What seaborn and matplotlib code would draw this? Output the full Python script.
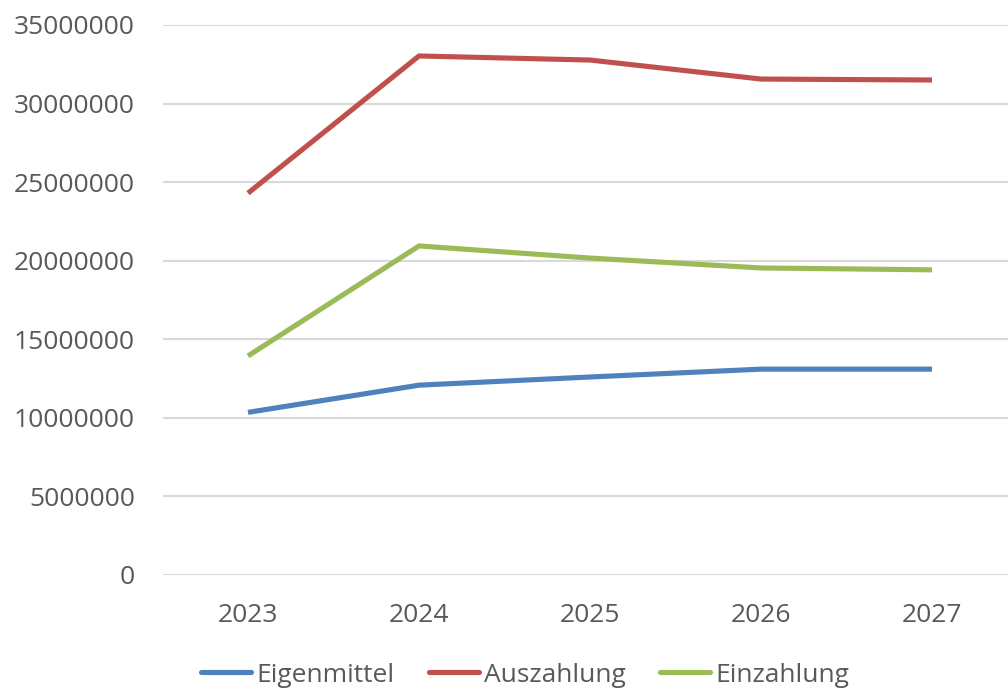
import matplotlib
matplotlib.use("Agg")
import matplotlib.pyplot as plt
import seaborn as sns
import pandas as pd

years = ["2023", "2024", "2025", "2026", "2027"]
eigenmittel = [10350000, 12080000, 12600000, 13100000, 13100000]
auszahlung = [24300000, 33030000, 32770000, 31560000, 31500000]
einzahlung = [13940000, 20940000, 20170000, 19540000, 19420000]
series_names = ["Eigenmittel", "Auszahlung", "Einzahlung"]
colors = ["#4F81BD", "#C0504D", "#9BBB59"]

rows = []
for name, vals in zip(series_names, [eigenmittel, auszahlung, einzahlung]):
    for i, (y, v) in enumerate(zip(years, vals)):
        rows.append({"idx": i, "Jahr": y, "Wert": v, "Serie": name})
df = pd.DataFrame(rows)

sns.set_theme(style="white")
plt.rcParams["font.family"] = ["Open Sans", "DejaVu Sans"]

fig = plt.figure(figsize=(10.08, 6.88), dpi=100)
ax = fig.add_axes([162.5 / 1008, (688 - 575) / 688, 855 / 1008, 550 / 688])

sns.lineplot(data=df, x="idx", y="Wert", hue="Serie", hue_order=series_names,
             palette=colors, linewidth=3.7, ax=ax, legend=False,
             solid_capstyle="butt")

ax.set_xlim(-0.5, 4.5)
ax.set_ylim(0, 35000000)
ax.set_yticks(range(0, 35000001, 5000000))
ax.set_yticklabels([str(v) for v in range(0, 35000001, 5000000)])
ax.set_xticks(range(len(years)))
ax.set_xticklabels(years)
ax.set_xlabel("")
ax.set_ylabel("")
ax.yaxis.grid(True, color="#D9D9D9", linewidth=1.5)
ax.xaxis.grid(False)
ax.set_axisbelow(True)
for s in ax.spines.values():
    s.set_visible(False)
ax.tick_params(axis="both", length=0, labelsize=19, colors="#595959")
ax.tick_params(axis="y", pad=20)
ax.tick_params(axis="x", pad=20)

from matplotlib.lines import Line2D
handles = [Line2D([0], [0], color=c, linewidth=3.7, solid_capstyle="round") for c in colors]
fig.legend(handles, series_names, loc="center", bbox_to_anchor=(525 / 1008, 1 - 675 / 688),
           ncol=3, frameon=False, fontsize=19, handlelength=1.9, handletextpad=0.2,
           columnspacing=1.3, labelcolor="#595959", borderpad=0)

fig.savefig("out.png", dpi=100)
